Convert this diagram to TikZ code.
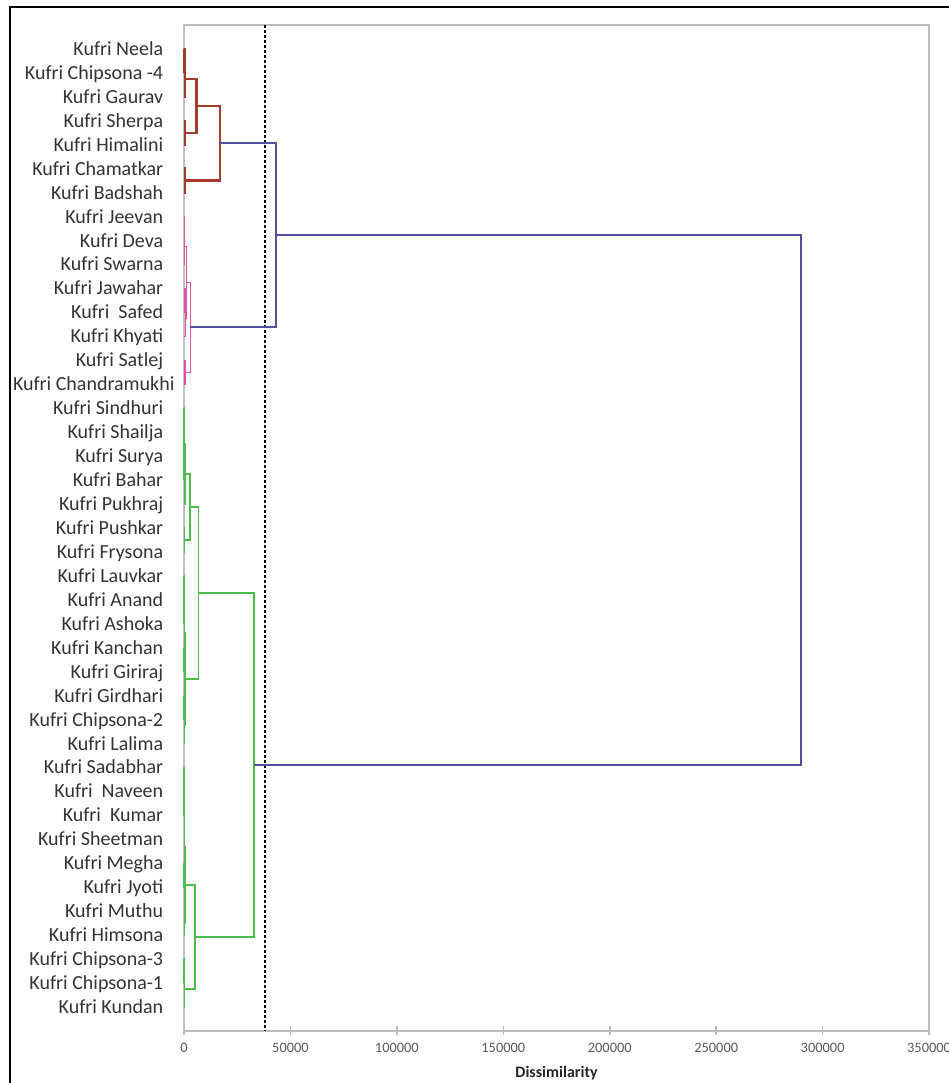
\documentclass[tikz,border=0pt]{standalone}
\usepackage{fontspec}
\setmainfont{Carlito}
\usepackage{xcolor}
\usepackage{tikz}
\usetikzlibrary{calc}

\definecolor{brownclu}{RGB}{163,60,45}
\definecolor{pinkclu}{RGB}{224,80,170}
\definecolor{greenclu}{RGB}{76,190,76}
\definecolor{purpleclu}{RGB}{82,80,152}
\definecolor{axisgray}{RGB}{190,190,190}

% join two children at a given dissimilarity
\newcommand\clusterjoin[5]{%
  \coordinate (#1-m) at ($(#2)!0.5!(#3)$);
  \coordinate (#1) at (#4,0 |- #1-m);
  \draw[#5] (#2) -| (#1) |- (#3);
}

\begin{document}
\begin{tikzpicture}[x=1.0643pt, y=-11.975pt,
    lbl/.style={anchor=east, inner sep=0pt, text height=6.4pt, text depth=0pt,
        font=\fontsize{10}{12}\selectfont, text=black!80},
    ticklbl/.style={inner sep=0pt, text height=4.6pt, text depth=0pt,
        font=\fontsize{7.2}{9}\selectfont, text=black!65},
    brownline/.style={draw=brownclu, line width=1.3pt},
    pinkline/.style={draw=pinkclu, line width=0.8pt},
    greenline/.style={draw=greenclu, line width=0.8pt},
    purpleline/.style={draw=purpleclu, line width=1pt}]

    \useasboundingbox (-86.44,-1.046) rectangle (358.92,44.17);

    % Outer frame
    \draw[line width=1pt] (362,-0.766) -- (-81.7,-0.766) -- (-81.7,45);

    % Plot area and axis
    \draw[axisgray, line width=0.75pt] (0,0) rectangle (350,42);
    \foreach \v/\t in {0/0,50/50000,100/100000,150/150000,200/200000,250/250000,300/300000,350/350000} {
        \draw[axisgray, line width=0.75pt] (\v,41.8) -- (\v,42.15);
        \node[ticklbl] (t\v) at (\v,42.71) {\t};
    }
    \node[font=\bfseries\fontsize{8}{10}\selectfont, text=black!85] (xlab) at (175,43.76) {Dissimilarity};

    % Truncation line
    \draw[line width=0.6pt, dash pattern=on 1.5pt off 1pt] (38,0) -- (38,42);

    % Leaves
    \foreach \lab [count=\i] in {Kufri Neela, Kufri Chipsona -4, Kufri Gaurav, Kufri Sherpa,
        Kufri Himalini, Kufri Chamatkar, Kufri Badshah, Kufri Jeevan, Kufri Deva,
        Kufri Swarna, Kufri Jawahar, Kufri\ \ Safed, Kufri Khyati, Kufri Satlej,
        Kufri Chandramukhi, Kufri Sindhuri, Kufri Shailja, Kufri Surya, Kufri Bahar,
        Kufri Pukhraj, Kufri Pushkar, Kufri Frysona, Kufri Lauvkar, Kufri Anand,
        Kufri Ashoka, Kufri Kanchan, Kufri Giriraj, Kufri Girdhari, Kufri Chipsona-2,
        Kufri Lalima, Kufri Sadabhar, Kufri\ \ Naveen, Kufri\ \ Kumar, Kufri Sheetman,
        Kufri Megha, Kufri Jyoti, Kufri Muthu, Kufri Himsona, Kufri Chipsona-3,
        Kufri Chipsona-1, Kufri Kundan} {
        \coordinate (k\i) at (0,\i);
        \ifnum\i=15
            \node[lbl, anchor=west] (l\i) at (-80.5,\i) {\lab};
        \else
            \node[lbl] (l\i) at (-9.6,\i) {\lab};
        \fi
    }

    % Cluster 1
    \clusterjoin{n1}{k1}{k2}{0.3}{brownline}
    \clusterjoin{n2}{n1}{k3}{0.5}{brownline}
    \clusterjoin{n3}{k4}{k5}{0.5}{brownline}
    \clusterjoin{b1}{n2}{n3}{6.0}{brownline}
    \clusterjoin{n4}{k6}{k7}{0.5}{brownline}
    \clusterjoin{b0}{b1}{n4}{16.9}{brownline}

    % Cluster 2
    \clusterjoin{q1}{k8}{k9}{0.2}{pinkline}
    \clusterjoin{q2}{q1}{k10}{0.3}{pinkline}
    \clusterjoin{q3}{k11}{k12}{0.5}{pinkline}
    \clusterjoin{q4}{q3}{k13}{0.7}{pinkline}
    \clusterjoin{q5}{q2}{q4}{1.2}{pinkline}
    \clusterjoin{q6}{k14}{k15}{0.5}{pinkline}
    \clusterjoin{p0}{q5}{q6}{3.0}{pinkline}

    % Cluster 3
    \clusterjoin{r1}{k16}{k17}{0.05}{greenline}
    \clusterjoin{r2}{k18}{k19}{0.05}{greenline}
    \clusterjoin{r3}{r1}{r2}{0.1}{greenline}
    \clusterjoin{r4}{r3}{k20}{0.5}{greenline}
    \clusterjoin{r5}{k21}{k22}{0.2}{greenline}
    \clusterjoin{gA}{r4}{r5}{2.9}{greenline}
    \clusterjoin{r6}{k23}{k24}{0.05}{greenline}
    \clusterjoin{r7}{r6}{k25}{0.1}{greenline}
    \clusterjoin{r8}{k26}{k27}{0.1}{greenline}
    \clusterjoin{r9}{r7}{r8}{0.2}{greenline}
    \clusterjoin{r10}{k28}{k29}{0.1}{greenline}
    \clusterjoin{r11}{r10}{k30}{0.2}{greenline}
    \clusterjoin{gB}{r9}{r11}{0.5}{greenline}
    \clusterjoin{gU}{gA}{gB}{6.9}{greenline}
    \clusterjoin{s1}{k31}{k32}{0.05}{greenline}
    \clusterjoin{s2}{s1}{k33}{0.1}{greenline}
    \clusterjoin{s3}{s2}{k34}{0.2}{greenline}
    \clusterjoin{s4}{k35}{k36}{0.1}{greenline}
    \clusterjoin{s5}{s3}{s4}{0.3}{greenline}
    \clusterjoin{s6}{k37}{k38}{0.2}{greenline}
    \clusterjoin{s7}{s5}{s6}{0.6}{greenline}
    \clusterjoin{s8}{k39}{k40}{0.1}{greenline}
    \clusterjoin{s9}{s8}{k41}{0.3}{greenline}
    \clusterjoin{gL}{s7}{s9}{5.2}{greenline}
    \clusterjoin{g0}{gU}{gL}{32.9}{greenline}

    % Top joins
    \clusterjoin{u1}{b0}{p0}{43.2}{purpleline}
    \clusterjoin{u0}{u1}{g0}{290}{purpleline}
\end{tikzpicture}
\end{document}
